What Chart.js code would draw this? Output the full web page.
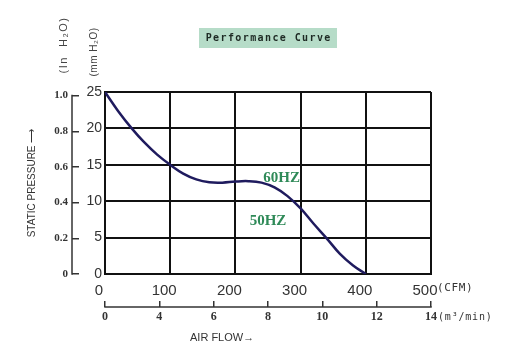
<!DOCTYPE html>
<html><head><meta charset="utf-8">
<script src="https://cdn.jsdelivr.net/npm/chart.js@4/dist/chart.umd.min.js"></script>
<style>html,body{margin:0;padding:0;background:#fff;}#wrap{width:518px;height:360px;}</style>
</head><body><div id="wrap"><canvas id="c" width="518" height="360"></canvas></div>
<script>
// ---- data ----
const flowCFM    = [0, 20, 41, 60, 80, 100, 120, 140, 160, 180, 200, 220, 240, 260, 280, 300, 320, 340, 360, 380, 400];
const pressureMM = [25, 22.4, 20, 18.1, 16.4, 15, 13.8, 13.0, 12.6, 12.55, 12.7, 12.75, 12.55, 11.9, 10.7, 9.0, 6.9, 4.9, 2.8, 1.2, 0];
const cfmTicks = [0, 100, 200, 300, 400, 500];
const mmTicks = [0, 5, 10, 15, 20, 25];
const inchTickValues = [0, 0.2, 0.4, 0.6, 0.8, 1.0];
const inchTickLabels = ['0', '0.2', '0.4', '0.6', '0.8', '1.0'];
const m3Labels = ['0', '4', '6', '8', '10', '12', '14'];
const hzLabels = ['60HZ', '50HZ'];
const hzAnchorCFM = [271, 250];
const hzAnchorMM = [13.2, 7.3];

const SERIF = "'Liberation Serif','Times New Roman',serif";
const MONO = "'DejaVu Sans Mono','Liberation Mono',monospace";
const SANS = "'Liberation Sans',Arial,sans-serif";

const decor = {
  id: 'decor',
  afterDraw(chart) {
    const ctx = chart.ctx, ca = chart.chartArea, sc = chart.scales;
    ctx.save();
    // inch axis vertical line (left of its tick marks)
    const y2 = sc.y2;
    const lx = y2.right - 7;
    ctx.strokeStyle = '#333'; ctx.lineWidth = 1.5;
    ctx.beginPath();
    ctx.moveTo(lx, y2.getPixelForValue(inchTickValues[inchTickValues.length - 1]) - 0.75);
    ctx.lineTo(lx, y2.getPixelForValue(inchTickValues[0]) + 0.75);
    ctx.stroke();
    // m3/min axis horizontal line (below its tick marks)
    const x2 = sc.x2;
    const ly = x2.top + 6;
    ctx.beginPath();
    ctx.moveTo(x2.left - 0.75, ly); ctx.lineTo(x2.right + 0.75, ly);
    ctx.stroke();

    // title box
    const cx = (ca.left + ca.right) / 2;
    ctx.fillStyle = '#b6dcc8';
    ctx.fillRect(cx - 69, 28, 138, 20);
    ctx.fillStyle = '#1e2a24';
    ctx.font = 'bold 10px ' + MONO;
    ctx.textAlign = 'center'; ctx.textBaseline = 'middle';
    ctx.letterSpacing = '1.4px';
    ctx.fillText('Performance Curve', cx + 0.7, 38.5);
    ctx.letterSpacing = '0px';

    // rotated unit labels
    ctx.fillStyle = '#444';
    ctx.save();
    ctx.translate(64, 45); ctx.rotate(-Math.PI / 2);
    ctx.font = '11px ' + SANS; ctx.letterSpacing = '1.5px';
    ctx.fillText('(In  H\u2082O)', 0, 0);
    ctx.restore();
    ctx.save();
    ctx.translate(94, 52); ctx.rotate(-Math.PI / 2);
    ctx.font = '10px ' + SANS; ctx.letterSpacing = '0.5px';
    ctx.fillText('(mm H\u2082O)', 0, 0);
    ctx.restore();
    ctx.letterSpacing = '0px';

    // unit suffixes
    ctx.fillStyle = '#333';
    ctx.textAlign = 'left';
    ctx.font = '11px ' + MONO; ctx.letterSpacing = '0.6px';
    ctx.fillText('(CFM)', ca.right + 6, 288);
    ctx.font = '10px ' + MONO; ctx.letterSpacing = '0.8px';
    ctx.fillText('(m\u00b3/min)', ca.right + 7, 317);
    ctx.letterSpacing = '0px';
    ctx.font = '11px ' + SANS;
    ctx.fillText('AIR FLOW\u2192', 190, 338);

    // HZ labels
    ctx.fillStyle = '#2f8a58';
    ctx.font = 'bold 15px ' + SERIF;
    ctx.textAlign = 'center';
    hzLabels.forEach((t, i) => {
      ctx.fillText(t, sc.x.getPixelForValue(hzAnchorCFM[i]), sc.y.getPixelForValue(hzAnchorMM[i]));
    });
    ctx.restore();
  }
};

new Chart(document.getElementById('c'), {
  type: 'line',
  data: {
    datasets: [{
      data: flowCFM.map((v, i) => ({x: v, y: pressureMM[i]})),
      borderColor: '#1f1b5e', borderWidth: 2.5, pointRadius: 0,
      tension: 0.4, fill: false, xAxisID: 'x', yAxisID: 'y'
    }]
  },
  options: {
    responsive: false, animation: false, devicePixelRatio: 1,
    layout: {padding: {top: 92, right: 87, bottom: 19, left: 0}},
    plugins: {legend: {display: false}, tooltip: {enabled: false}, title: {display: false}},
    scales: {
      x: {
        type: 'linear', position: 'bottom', min: 0, max: 500, weight: 0,
        afterBuildTicks: s => { s.ticks = cfmTicks.map(v => ({value: v})); },
        grid: {color: '#111', lineWidth: 2, drawTicks: false},
        border: {color: '#111', width: 2},
        ticks: {padding: 8, labelOffset: -6, color: '#333', maxRotation: 0, font: {family: SANS, size: 15}},
        afterFit: s => { s.height = 27; }
      },
      x2: {
        type: 'category', position: 'bottom', labels: m3Labels, offset: false, weight: 1,
        grid: {drawOnChartArea: false, tickLength: 6, color: '#333', lineWidth: 1.5},
        border: {display: false},
        ticks: {padding: 3, autoSkip: false, maxRotation: 0, color: '#333', font: {family: SERIF, weight: 'bold', size: 12}},
        afterFit: s => { s.height = 40; }
      },
      y: {
        type: 'linear', position: 'left', min: 0, max: 25, weight: 0,
        afterBuildTicks: s => { s.ticks = mmTicks.map(v => ({value: v})); },
        grid: {color: '#111', lineWidth: 2, drawTicks: false},
        border: {color: '#111', width: 2},
        ticks: {padding: 3, color: '#333', font: {family: SANS, size: 14}},
        afterFit: s => { s.width = 26; }
      },
      y2: {
        type: 'linear', position: 'left', min: 0, max: 1.02, weight: 1,
        afterBuildTicks: s => { s.ticks = inchTickValues.map(v => ({value: v})); },
        grid: {drawOnChartArea: false, tickLength: 7, color: '#333', lineWidth: 1.5},
        border: {display: false},
        ticks: {padding: 4, color: '#333', font: {family: SERIF, weight: 'bold', size: 11},
          callback: (v, i) => inchTickLabels[i]},
        title: {display: true, text: 'STATIC PRESSURE \u27f6', color: '#333',
          font: {family: SANS, size: 10}, padding: {top: 26, bottom: 0}},
        afterFit: s => { s.width = 79; }
      }
    }
  },
  plugins: [decor]
});
</script></body></html>
